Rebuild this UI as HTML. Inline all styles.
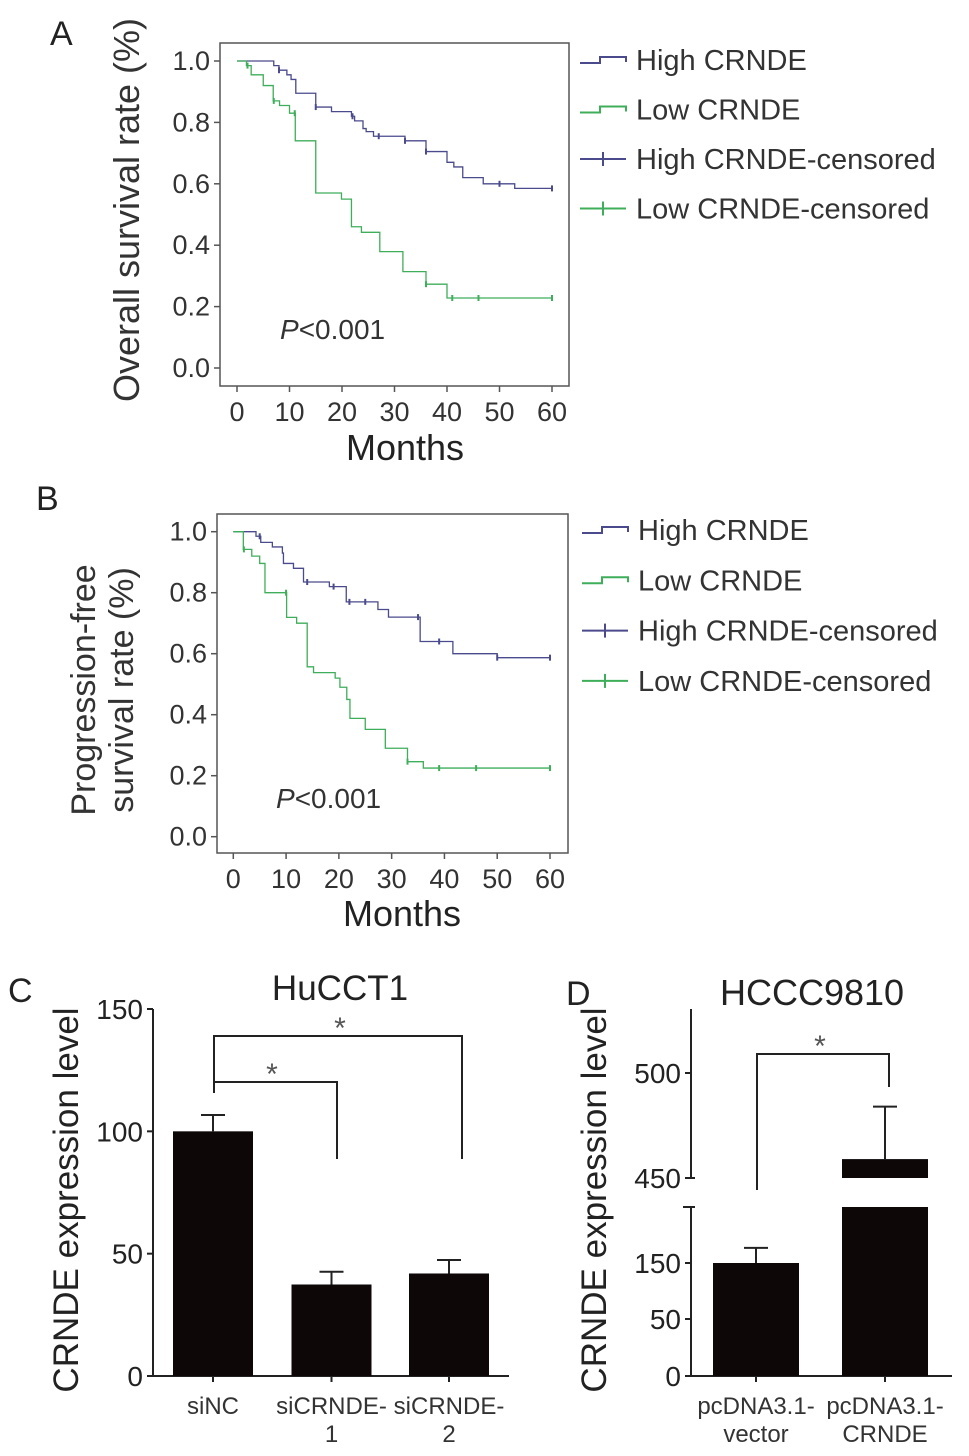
<!DOCTYPE html>
<html><head><meta charset="utf-8">
<style>
html,body{margin:0;padding:0;background:#fff;}
svg{display:block;font-family:"Liberation Sans",Arial,sans-serif;}
</style></head>
<body>
<svg id="fig" width="969" height="1456" viewBox="0 0 969 1456" xmlns="http://www.w3.org/2000/svg">
<text x="50" y="45" font-size="34" fill="#222">A</text>
<text transform="translate(139,210) rotate(-90)" text-anchor="middle" font-size="36" fill="#333">Overall survival rate (%)</text>
<text x="405" y="460" text-anchor="middle" font-size="36" fill="#222">Months</text>
<text x="280" y="339" font-size="28" fill="#333"><tspan font-style="italic">P</tspan>&lt;0.001</text>
<text x="36" y="510" font-size="34" fill="#222">B</text>
<text transform="translate(95,690) rotate(-90)" text-anchor="middle" font-size="34" fill="#333">Progression-free</text>
<text transform="translate(133,690) rotate(-90)" text-anchor="middle" font-size="34" fill="#333">survival rate (%)</text>
<text x="402" y="926" text-anchor="middle" font-size="36" fill="#222">Months</text>
<text x="276" y="808" font-size="28" fill="#333"><tspan font-style="italic">P</tspan>&lt;0.001</text>
<text x="8" y="1002" font-size="34" fill="#222">C</text>
<text x="340" y="1000" text-anchor="middle" font-size="35" fill="#222">HuCCT1</text>
<text transform="translate(78,1200) rotate(-90)" text-anchor="middle" font-size="35" fill="#222">CRNDE expression level</text>
<text x="566" y="1005" font-size="34" fill="#222">D</text>
<text x="812" y="1005" text-anchor="middle" font-size="36" fill="#222">HCCC9810</text>
<text transform="translate(606,1200) rotate(-90)" text-anchor="middle" font-size="35" fill="#222">CRNDE expression level</text>
</svg>
<script>
const aHighTimes = [0, 7, 8, 9.5, 10.3, 11.2, 15, 18, 21.8, 22.4, 24, 24.6, 26, 32, 36, 40, 41.3, 43, 46.9, 52.9, 60];
const aHighSurv  = [1.0, 0.985, 0.97, 0.955, 0.94, 0.895, 0.85, 0.835, 0.82, 0.805, 0.78, 0.77, 0.755, 0.74, 0.705, 0.67, 0.655, 0.62, 0.60, 0.585, 0.585];
const aHighCens  = [8, 15, 22, 27, 32, 36, 50, 60];
const aLowTimes  = [0, 1.8, 2.7, 5, 6.9, 8.1, 10, 11.1, 15, 19.9, 21.8, 23.7, 27.2, 31.6, 36, 40, 60];
const aLowSurv   = [1.0, 0.985, 0.955, 0.92, 0.87, 0.855, 0.83, 0.74, 0.57, 0.55, 0.46, 0.442, 0.379, 0.314, 0.273, 0.228, 0.228];
const aLowCens   = [2, 7, 11, 36, 41, 46, 60];

const bHighTimes = [0, 4.3, 5.2, 7.4, 9.3, 9.5, 11.4, 13.3, 18.2, 21.4, 27.4, 29.4, 35.4, 41.6, 50, 60];
const bHighSurv  = [1.0, 0.985, 0.965, 0.95, 0.93, 0.896, 0.88, 0.835, 0.82, 0.77, 0.745, 0.72, 0.64, 0.60, 0.587, 0.587];
const bHighCens  = [5, 14, 19, 22, 25, 35, 39, 50, 60];
const bLowTimes  = [0, 1.9, 3.5, 5, 6, 10.1, 12, 14, 15.2, 19.3, 20.2, 21.5, 22.1, 25, 28.8, 33, 36, 60];
const bLowSurv   = [1.0, 0.942, 0.92, 0.896, 0.80, 0.719, 0.70, 0.557, 0.538, 0.52, 0.49, 0.45, 0.388, 0.352, 0.29, 0.246, 0.225, 0.225];
const bLowCens   = [2, 10, 33, 39, 46, 60];

const kmXTicks = [0, 10, 20, 30, 40, 50, 60];
const kmYTicks = [0.0, 0.2, 0.4, 0.6, 0.8, 1.0];
const legendLabels = ["High CRNDE", "Low CRNDE", "High CRNDE-censored", "Low CRNDE-censored"];

const cCategories = ["siNC", "siCRNDE-\n1", "siCRNDE-\n2"];
const cValues = [100, 37.4, 41.9];
const cErrors = [6.7, 5.2, 5.5];
const cTicks = [0, 50, 100, 150];

const dCategories = ["pcDNA3.1-\nvector", "pcDNA3.1-\nCRNDE"];
const dValues = [150, 459];
const dErrors = [27, 25];
const dLowTicks = [0, 50, 150];
const dHighTicks = [450, 500];

const NS = "http://www.w3.org/2000/svg";
const svg = document.getElementById('fig');
const HIGH = "#4a4a8c", LOW = "#3fae5a", AX = "#555";
function mk(tag, attrs, parent) {
  const e = document.createElementNS(NS, tag);
  for (const k in attrs) e.setAttribute(k, attrs[k]);
  (parent || svg).appendChild(e);
  return e;
}

function kmPanel(p, data, leg) {
  const xs = v => p.x0 + (v / 60) * (p.x60 - p.x0);
  const ys = v => p.y0 + v * (p.y1 - p.y0);
  const g = mk('g', {});
  
  
  const box = mk('rect', {x: p.bl, y: p.bt, width: p.br - p.bl, height: p.bb - p.bt, fill: 'none', stroke: AX, 'stroke-width': 1.5}, g);
  
  
  kmYTicks.forEach(t => {
    mk('line', {x1: p.bl - 6, x2: p.bl, y1: ys(t), y2: ys(t), stroke: AX, 'stroke-width': 1.5}, g);
    const tx = mk('text', {x: p.bl - 10, y: ys(t) + 9, 'text-anchor': 'end', 'font-size': 27, fill: '#333'}, g);
    tx.textContent = t.toFixed(1);
    
    
  });
  kmXTicks.forEach(t => {
    mk('line', {x1: xs(t), x2: xs(t), y1: p.bb, y2: p.bb + 6, stroke: AX, 'stroke-width': 1.5}, g);
    const tx = mk('text', {x: xs(t), y: p.bb + 35, 'text-anchor': 'middle', 'font-size': 27, fill: '#333'}, g);
    tx.textContent = t;
    
    
  });
  data.forEach(s => {
    let d = 'M' + xs(s.t[0]) + ',' + ys(s.s[0]);
    for (let i = 1; i < s.t.length; i++) {
      d += ' H' + xs(s.t[i]) + ' V' + ys(s.s[i]);
    }
    const path = mk('path', {d: d, fill: 'none', stroke: s.c, 'stroke-width': 1.3}, g);
    
    
    s.cens.forEach(ct => {
      let v = s.s[0];
      for (let i = 0; i < s.t.length; i++) if (s.t[i] <= ct) v = s.s[i];
      const m = mk('line', {x1: xs(ct), x2: xs(ct), y1: ys(v) - 3, y2: ys(v) + 3, stroke: s.c, 'stroke-width': 2}, g);
      
      
    });
  });
  legendLabels.forEach((lab, i) => {
    const y = leg.y + i * leg.dy;
    const c = i % 2 === 0 ? HIGH : LOW;
    const lg = mk('g', {}, g);
    
    
    if (i < 2) {
      mk('path', {d: `M${leg.x},${y + 3} H${leg.x + 20} V${y - 3} H${leg.x + 46} V${y + 2}`, fill: 'none', stroke: c, 'stroke-width': 2}, lg);
    } else {
      mk('line', {x1: leg.x, x2: leg.x + 46, y1: y, y2: y, stroke: c, 'stroke-width': 2}, lg);
      mk('line', {x1: leg.x + 23, x2: leg.x + 23, y1: y - 7, y2: y + 7, stroke: c, 'stroke-width': 2}, lg);
    }
    const tx = mk('text', {x: leg.x + 56, y: y + 10, 'font-size': 29, fill: '#333'}, lg);
    tx.textContent = lab;
  });
}

kmPanel({name: 'panel-a', bl: 220, bt: 43, br: 569, bb: 386, x0: 237, x60: 552, y0: 368, y1: 61},
  [{n: 'high-crnde', t: aHighTimes, s: aHighSurv, cens: aHighCens, c: HIGH},
   {n: 'low-crnde', t: aLowTimes, s: aLowSurv, cens: aLowCens, c: LOW}],
  {x: 580, y: 60, dy: 49.5});
kmPanel({name: 'panel-b', bl: 217, bt: 514, br: 568, bb: 853, x0: 233.3, x60: 550, y0: 836.7, y1: 531.7},
  [{n: 'high-crnde', t: bHighTimes, s: bHighSurv, cens: bHighCens, c: HIGH},
   {n: 'low-crnde', t: bLowTimes, s: bLowSurv, cens: bLowCens, c: LOW}],
  {x: 582, y: 530, dy: 50.3});

function catLabel(g, x, y, str) {
  str.split('\n').forEach((ln, i) => {
    const t = mk('text', {x: x, y: y + i * 28, 'text-anchor': 'middle', 'font-size': 24, fill: '#333'}, g);
    t.textContent = ln;
    
    
  });
}

(function () {
  const g = mk('g', {});
  
  
  const axX = 153, y0 = 1376, y150 = 1009;
  const ys = v => y0 - v / 150 * (y0 - y150);
  const centers = [213, 331.5, 449];
  const bw = 80;
  mk('line', {x1: axX, x2: axX, y1: y150, y2: y0, stroke: '#222', 'stroke-width': 2}, g);
  mk('line', {x1: axX, x2: 509, y1: y0, y2: y0, stroke: '#222', 'stroke-width': 2}, g);
  cTicks.forEach(t => {
    mk('line', {x1: axX - 6, x2: axX, y1: ys(t), y2: ys(t), stroke: '#222', 'stroke-width': 2}, g);
    const tx = mk('text', {x: axX - 10, y: ys(t) + 10, 'text-anchor': 'end', 'font-size': 28, fill: '#222'}, g);
    tx.textContent = t;
    
    
  });
  cValues.forEach((v, i) => {
    const cx = centers[i];
    mk('line', {x1: cx, x2: cx, y1: ys(v + cErrors[i]), y2: ys(v), stroke: '#222', 'stroke-width': 2}, g);
    mk('line', {x1: cx - 12, x2: cx + 12, y1: ys(v + cErrors[i]), y2: ys(v + cErrors[i]), stroke: '#222', 'stroke-width': 2}, g);
    const b = mk('rect', {x: cx - bw / 2, y: ys(v), width: bw, height: y0 - ys(v), fill: '#0d0708'}, g);
    
    
    mk('line', {x1: cx, x2: cx, y1: y0, y2: y0 + 6, stroke: '#222', 'stroke-width': 2}, g);
    catLabel(g, cx, 1414, cCategories[i]);
  });
  mk('path', {d: 'M214,1093 V1036 H462 V1159 M214,1082 H337 V1159', fill: 'none', stroke: '#222', 'stroke-width': 2}, g);
  const s1 = mk('text', {x: 272, y: 1084, 'text-anchor': 'middle', 'font-size': 30, fill: '#555'}, g); s1.textContent = '*';
  
  
  const s2 = mk('text', {x: 340, y: 1038, 'text-anchor': 'middle', 'font-size': 30, fill: '#555'}, g); s2.textContent = '*';
  
  
})();

(function () {
  const g = mk('g', {});
  
  
  const axX = 691, y0 = 1376;
  const lowDom = [0, 50, 150, 250], lowRng = [1376, 1319, 1263, 1207];
  const ysLow = v => {
    if (v >= 250) return 1207;
    for (let i = 0; i < 3; i++) if (v <= lowDom[i + 1]) return lowRng[i] + (v - lowDom[i]) / (lowDom[i + 1] - lowDom[i]) * (lowRng[i + 1] - lowRng[i]);
    return 1207;
  };
  const ysHigh = v => 1178 - (v - 450) * (1178 - 1073) / 50;
  const ysAny = v => v >= 450 ? ysHigh(v) : ysLow(v);
  const centers = [756, 885];
  const bw = 86;
  mk('line', {x1: axX, x2: axX, y1: 1207, y2: y0, stroke: '#222', 'stroke-width': 2}, g);
  mk('line', {x1: axX, x2: axX, y1: 1009, y2: 1178, stroke: '#222', 'stroke-width': 2}, g);
  mk('line', {x1: axX - 8, x2: axX + 4, y1: 1207, y2: 1207, stroke: '#222', 'stroke-width': 2}, g);
  mk('line', {x1: axX, x2: 952, y1: y0, y2: y0, stroke: '#222', 'stroke-width': 2}, g);
  dLowTicks.forEach(t => {
    mk('line', {x1: axX - 6, x2: axX, y1: ysLow(t), y2: ysLow(t), stroke: '#222', 'stroke-width': 2}, g);
    const tx = mk('text', {x: axX - 10, y: ysLow(t) + 10, 'text-anchor': 'end', 'font-size': 28, fill: '#222'}, g);
    tx.textContent = t;
    
    
  });
  dHighTicks.forEach(t => {
    mk('line', {x1: axX - 6, x2: axX + (t === 450 ? 4 : 0), y1: ysHigh(t), y2: ysHigh(t), stroke: '#222', 'stroke-width': 2}, g);
    const tx = mk('text', {x: axX - 10, y: ysHigh(t) + 10, 'text-anchor': 'end', 'font-size': 28, fill: '#222'}, g);
    tx.textContent = t;
    
    
  });
  dValues.forEach((v, i) => {
    const cx = centers[i];
    const top = v + dErrors[i];
    mk('line', {x1: cx, x2: cx, y1: ysAny(top), y2: ysAny(v), stroke: '#222', 'stroke-width': 2}, g);
    mk('line', {x1: cx - 12, x2: cx + 12, y1: ysAny(top), y2: ysAny(top), stroke: '#222', 'stroke-width': 2}, g);
    const lowTop = ysLow(Math.min(v, 250));
    const b = mk('rect', {x: cx - bw / 2, y: lowTop, width: bw, height: y0 - lowTop, fill: '#0d0708'}, g);
    
    
    if (v >= 450) {
      const b2 = mk('rect', {x: cx - bw / 2, y: ysHigh(v), width: bw, height: 1178 - ysHigh(v), fill: '#0d0708'}, g);
      
      
    }
    mk('line', {x1: cx, x2: cx, y1: y0, y2: y0 + 6, stroke: '#222', 'stroke-width': 2}, g);
    catLabel(g, cx, 1414, dCategories[i]);
  });
  mk('path', {d: 'M757,1190 V1054 H889 V1087', fill: 'none', stroke: '#222', 'stroke-width': 2}, g);
  const s = mk('text', {x: 820, y: 1056, 'text-anchor': 'middle', 'font-size': 30, fill: '#555'}, g); s.textContent = '*';
  
  
})();
</script>
</body></html>
